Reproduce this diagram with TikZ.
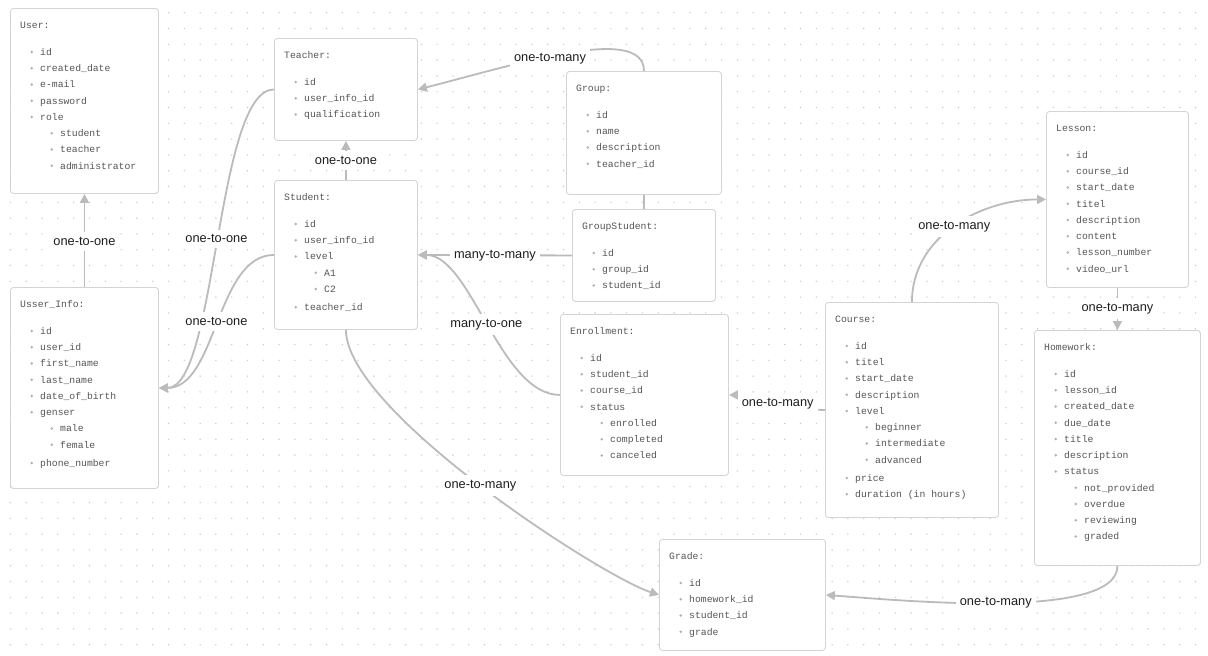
\documentclass[tikz,border=0pt]{standalone}
\usepackage{fontspec}
\setmainfont{Liberation Sans}
\newfontfamily\entmono{Liberation Mono}
\usetikzlibrary{arrows.meta}

\definecolor{boxc}{HTML}{D4D4D4}
\definecolor{linec}{HTML}{BBBBBB}
\definecolor{dotc}{HTML}{CCCCCC}
\definecolor{entc}{HTML}{555555}
\definecolor{bulc}{HTML}{B0B0B0}
\definecolor{lblc}{HTML}{1E1E1E}

\tikzset{
  entbox/.style={draw=boxc, fill=white, line width=0.9pt, rounded corners=3pt},
  enttext/.style={font=\entmono\fontsize{9.75}{12}\selectfont, text=entc, inner sep=0pt},
  conn/.style={draw=linec, line width=1.8pt},
  tip/.style={-{Triangle[length=9pt,width=9pt]}},
  lbl/.style={font=\fontsize{12.8}{14}\selectfont, text=lblc, fill=white,
              inner xsep=4pt, inner ysep=5pt}
}

% \entitybox{name}{left}{top}{width}{height}{level/text list}
% level 0 = heading, 1 = item, 2 = sub-item, 3 = item after a sub-list
\newcommand{\entitybox}[6]{%
  \node[entbox, minimum width=#4pt, minimum height=#5pt, anchor=north west] (#1) at (#2,#3) {};
  \foreach \lv/\tx [count=\i] in {#6} {
    \pgfmathsetmacro\yy{#3 + (\lv==0 ? 17 : 44 + 16.25*(\i-2) + (\lv==3 ? 2 : 0))}
    \pgfmathsetmacro\xo{#2 + (\lv==0 ? 10 : (\lv==2 ? 50 : 30))}
    \node[enttext, anchor=base west, name=#1-t\i] at (\xo, \yy+3.3) {\tx};
    \ifnum\lv>0 \fill[bulc] (\xo-8.3, \yy) circle[radius=1.4pt];\fi
  }
}

\begin{document}
\begin{tikzpicture}[x=1pt, y=-1pt]
  \useasboundingbox (0,0) rectangle (1208,656);
  \fill[white] (0,0) rectangle (1208,656);

  % dotted grid
  \foreach \gx in {0,...,76} {
    \foreach \gy in {0,...,40} {
      \fill[dotc] (10.5+15.8*\gx, 12.7+15.8*\gy) circle[radius=0.8pt];
    }
  }

  % tables
  \entitybox{user}{10}{8}{148}{185}{0/User:, 1/id, 1/created\_date, 1/e-mail, 1/password, 1/role, 2/student, 2/teacher, 2/administrator}
  \entitybox{teacher}{274}{38}{143}{102}{0/Teacher:, 1/id, 1/user\_info\_id, 1/qualification}
  \entitybox{group}{566}{71}{155}{123}{0/Group:, 1/id, 1/name, 1/description, 1/teacher\_id}
  \entitybox{gs}{572}{209}{143}{92}{0/GroupStudent:, 1/id, 1/group\_id, 1/student\_id}
  \entitybox{student}{274}{180}{143}{149}{0/Student:, 1/id, 1/user\_info\_id, 1/level, 2/A1, 2/C2, 3/teacher\_id}
  \entitybox{info}{10}{287}{148}{201}{0/Usser\_Info:, 1/id, 1/user\_id, 1/first\_name, 1/last\_name, 1/date\_of\_birth, 1/genser, 2/male, 2/female, 3/phone\_number}
  \entitybox{enroll}{560}{314}{168}{161}{0/Enrollment:, 1/id, 1/student\_id, 1/course\_id, 1/status, 2/enrolled, 2/completed, 2/canceled}
  \entitybox{course}{825}{302}{173}{215}{0/Course:, 1/id, 1/titel, 1/start\_date, 1/description, 1/level, 2/beginner, 2/intermediate, 2/advanced, 3/price, 3/duration (in hours)}
  \entitybox{lesson}{1046}{111}{142}{176}{0/Lesson:, 1/id, 1/course\_id, 1/start\_date, 1/titel, 1/description, 1/content, 1/lesson\_number, 1/video\_url}
  \entitybox{hw}{1034}{330}{166}{235}{0/Homework:, 1/id, 1/lesson\_id, 1/created\_date, 1/due\_date, 1/title, 1/description, 1/status, 2/not\_provided, 2/overdue, 2/reviewing, 2/graded}
  \entitybox{grade}{659}{539}{166}{111}{0/Grade:, 1/id, 1/homework\_id, 1/student\_id, 1/grade}

  % relations
  \draw[conn, tip] (info.north) -- node[lbl, yshift=-1pt] (r1) {one-to-one} (user.south);
  \draw[conn, tip] (teacher.west) .. controls +(-58,0) and +(58,0) .. node[lbl] (r2) {one-to-one} (info.east);
  \draw[conn, tip] (student.west) .. controls +(-58,0) and +(58,0) .. node[lbl] (r3) {one-to-one} (info.east);
  \draw[conn, tip] (student.north) -- node[lbl] (r4) {one-to-one} (teacher.south);
  \draw[conn, tip] (group.north) .. controls +(0,-48) and +(95,-24) .. node[lbl, pos=0.56, yshift=-2pt] (r5) {one-to-many} (teacher.east);
  \draw[conn] (gs.north) -- (group.south);
  \draw[conn, tip] (gs.west) -- node[lbl] (r6) {many-to-many} (student.east);
  \draw[conn, tip] (enroll.west) .. controls +(-60,0) and +(53,0) .. node[lbl] (r7) {many-to-one} (student.east);
  \draw[conn, tip] (student.south) .. controls +(0,81) and +(-59,-19.5) .. node[lbl] (r8) {one-to-many} (grade.west);
  \draw[conn, tip] (course.west) .. controls +(-35,0) and +(37,0) .. node[lbl, yshift=-1pt] (r9) {one-to-many} (enroll.east);
  \draw[conn, tip] (course.north) .. controls +(0,-65) and +(-66,0) .. node[lbl] (r10) {one-to-many} (lesson.west);
  \draw[conn, tip] (lesson.south) -- node[lbl] (r11) {one-to-many} (hw.north);
  \draw[conn, tip] (hw.south) .. controls +(0,55) and +(75,5.5) .. node[lbl, xshift=-4pt] (r12) {one-to-many} (grade.east);
\end{tikzpicture}
\end{document}
